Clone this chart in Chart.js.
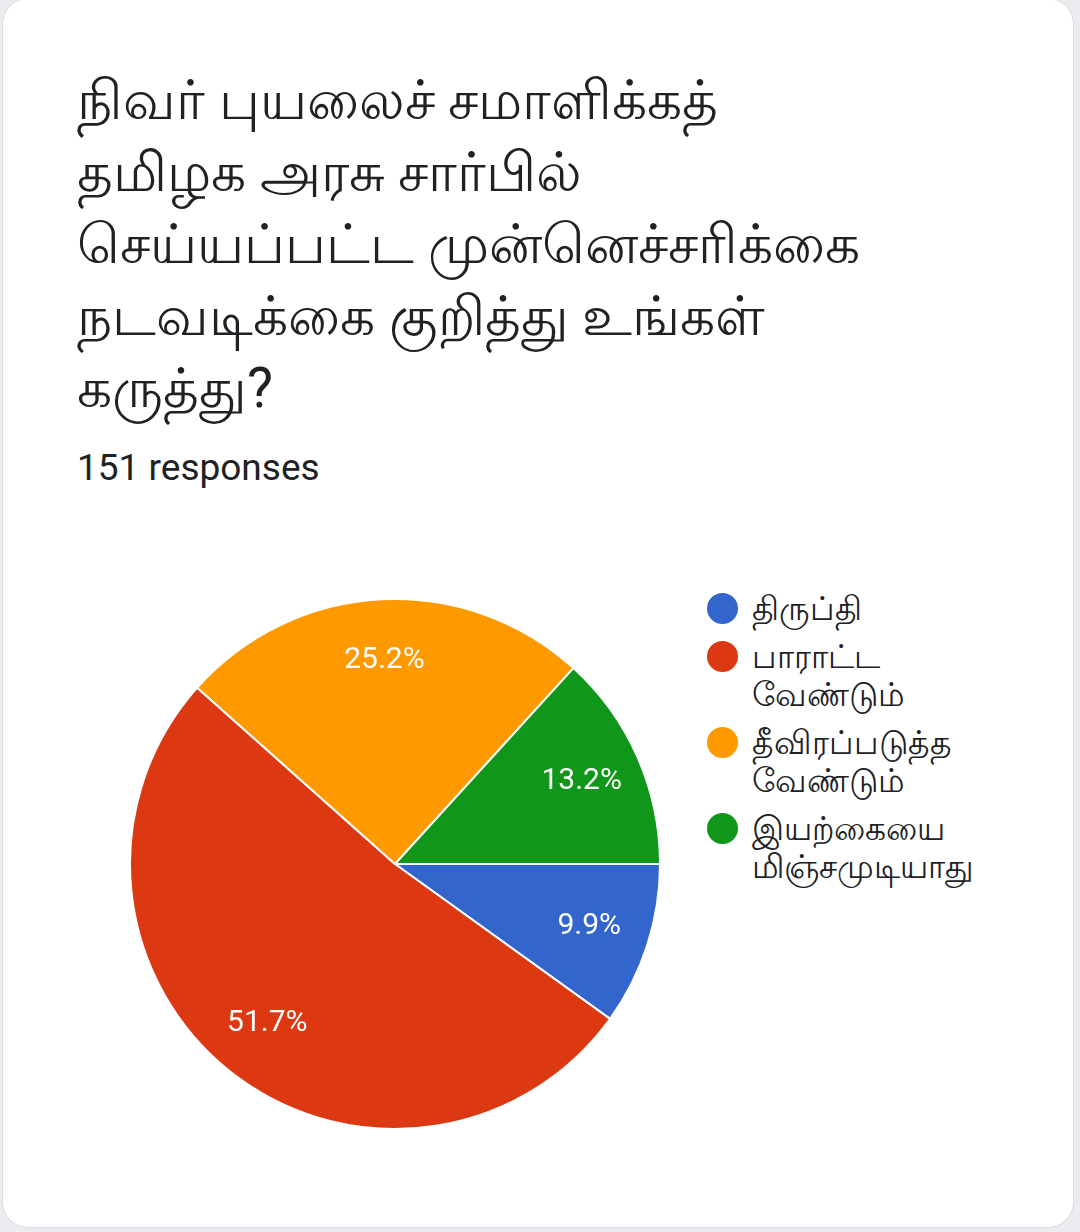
<!DOCTYPE html>
<html>
<head>
<meta charset="utf-8">
<script src="https://cdn.jsdelivr.net/npm/chart.js@4/dist/chart.umd.min.js"></script>
<style>
  html, body { margin: 0; padding: 0; }
  body { width: 1080px; height: 1232px; background: #ecebf0; position: relative; overflow: hidden;
         font-family: Roboto, 'Noto Sans', sans-serif; }
  .card { position: absolute; left: 2px; top: -2px; width: 1070px; height: 1228px; background: #fff;
          border: 1px solid #dadce0; border-radius: 26px; }
  .title { position: absolute; left: 77px; top: 64px; font-size: 55px; line-height: 72px; color: #202124; white-space: nowrap; }
  .count { position: absolute; left: 77px; top: 447px; font-size: 37px; line-height: 42px; color: #202124; }
  .chart-box { position: absolute; left: 125px; top: 594px; width: 540px; height: 540px; }
  .legend { position: absolute; left: 707px; top: 590px; list-style: none; margin: 0; padding: 0; }
  .legend li { display: flex; align-items: flex-start; margin-bottom: 10px; }
  .legend .dot { width: 31px; height: 31px; border-radius: 50%; margin-right: 14px; margin-top: 3px; flex: none; }
  .legend .txt { font-size: 33px; line-height: 38px; color: #202124; }
</style>
</head>
<body>
<div class="card"></div>
<div class="title">நிவர் புயலைச் சமாளிக்கத்<br>தமிழக அரசு சார்பில்<br>செய்யப்பட்ட முன்னெச்சரிக்கை<br>நடவடிக்கை குறித்து உங்கள்<br>கருத்து?</div>
<div class="count">151 responses</div>
<div class="chart-box"><canvas id="pieChart"></canvas></div>
<ul class="legend" id="legend"></ul>

<script>
// answers, in the order Google drew them (clockwise from 3 o'clock)
const labels = ["திருப்தி", ["பாராட்ட", "வேண்டும்"], ["தீவிரப்படுத்த", "வேண்டும்"], ["இயற்கையை", "மிஞ்சமுடியாது"]];
const counts = [15, 78, 38, 20];
const colors = ["#3366cc", "#dc3912", "#ff9900", "#109618"];

const total = counts.reduce((a, b) => a + b, 0);

// percentage text drawn inside each slice
const sliceLabels = {
    id: 'sliceLabels',
    afterDatasetsDraw(chart) {
        const ctx = chart.ctx;
        const meta = chart.getDatasetMeta(0);
        ctx.save();
        ctx.fillStyle = '#fff';
        ctx.font = '30px Roboto, sans-serif';
        ctx.textAlign = 'center';
        ctx.textBaseline = 'middle';
        meta.data.forEach((arc, i) => {
            const p = arc.getProps(['x', 'y', 'startAngle', 'endAngle', 'outerRadius'], true);
            const mid = (p.startAngle + p.endAngle) / 2;
            const r = p.outerRadius * 0.77;
            const pct = (counts[i] / total * 100).toFixed(1) + '%';
            ctx.fillText(pct, p.x + Math.cos(mid) * r, p.y + Math.sin(mid) * r);
        });
        ctx.restore();
    }
};

const pieCtx = document.getElementById('pieChart').getContext('2d');
new Chart(pieCtx, {
    type: 'pie',
    data: {
        labels: labels,
        datasets: [{
            data: counts,
            backgroundColor: colors,
            borderColor: '#ffffff',
            borderWidth: 2
        }]
    },
    options: {
        responsive: true,
        maintainAspectRatio: false,
        animation: false,
        rotation: 90,
        layout: { padding: 4 },
        plugins: {
            legend: { display: false },
            tooltip: { enabled: false }
        }
    },
    plugins: [sliceLabels]
});

// legend on the right, built from the same arrays
const legendEl = document.getElementById('legend');
labels.forEach((lab, i) => {
    const li = document.createElement('li');
    const dot = document.createElement('span');
    dot.className = 'dot';
    dot.style.backgroundColor = colors[i];
    const txt = document.createElement('span');
    txt.className = 'txt';
    txt.innerHTML = [].concat(lab).join('<br>');
    li.appendChild(dot);
    li.appendChild(txt);
    legendEl.appendChild(li);
});
</script>
</body>
</html>
